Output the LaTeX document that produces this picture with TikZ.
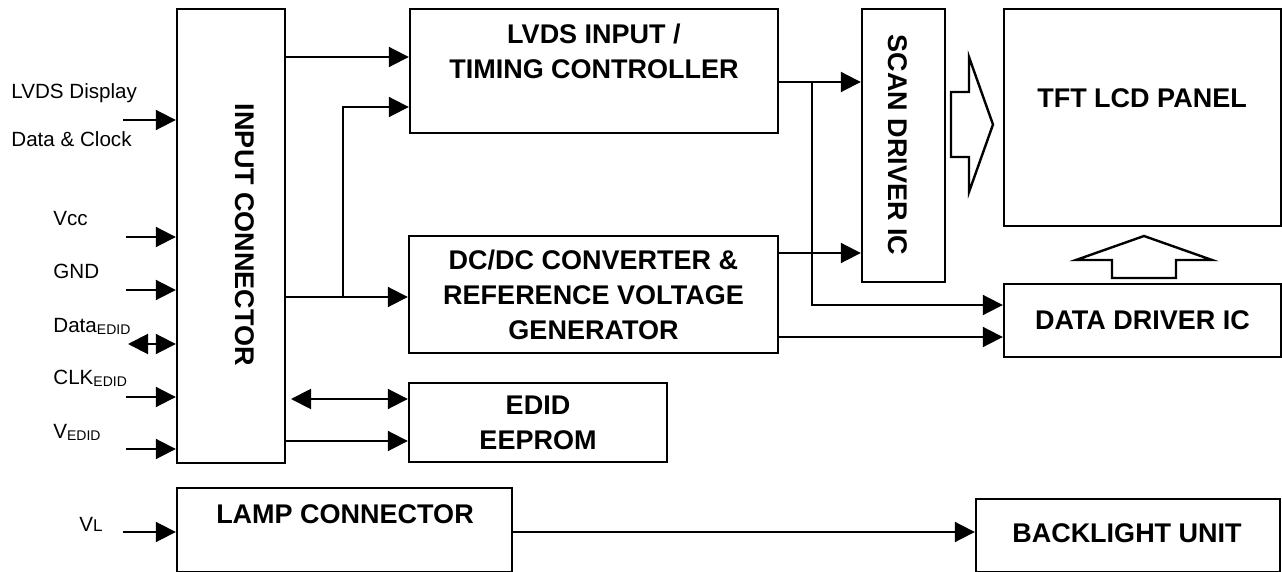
\documentclass[tikz,border=0pt]{standalone}
\usepackage{fontspec}
\setmainfont{Liberation Sans}
\usetikzlibrary{arrows.meta}
\newcommand\mybox[6]{\node[box,minimum width={(#4-#2)*0.5pt},minimum height={(#5-#3)*0.5pt}] (#1) at ({(#2+#4)/2},{(#3+#5)/2}) {#6};}
\newcommand\subtxt[1]{\raisebox{-0.6pt}{\fontsize{7}{8}\selectfont #1}}
\begin{document}
\begin{tikzpicture}[x=0.5pt,y=-0.5pt,
  box/.style={draw,line width=1.2pt,inner sep=0pt,align=center,font=\bfseries\fontsize{13.5}{17.5}\selectfont},
  lbl/.style={inner sep=0pt,anchor=base west,font=\fontsize{10.3}{12}\selectfont},
  btxt/.style={inner sep=0pt,align=center,font=\bfseries\fontsize{13.5}{17.5}\selectfont},
  arr/.style={line width=1pt,-{Triangle[length=10pt,width=10pt]}},
  darr/.style={line width=1pt,{Triangle[length=10pt,width=10pt]}-{Triangle[length=10pt,width=10pt]}},
  hollow/.style={draw,line width=1.2pt,fill=white,line join=miter}]
\useasboundingbox (0,0) rectangle (1282,572);

% boxes
\mybox{ic}{177}{9}{285}{463}{}
\node[btxt,rotate=-90] (ict) at (245,235) {INPUT CONNECTOR};
\mybox{lvds}{410}{9}{778}{133}{}
\node[btxt] (lvdst) at (594,51) {LVDS INPUT /\\TIMING CONTROLLER};
\mybox{dcdc}{409}{236}{778}{353}{DC/DC CONVERTER \&\\REFERENCE VOLTAGE\\GENERATOR}
\mybox{edid}{409}{383}{667}{462}{\fontsize{13.5}{15.5}\selectfont EDID\\EEPROM}
\mybox{scan}{862}{9}{945}{282}{}
\node[btxt,rotate=-90] (scant) at (898,145) {SCAN DRIVER IC};
\mybox{tft}{1004}{9}{1281}{226}{}
\node[btxt] (tftt) at (1142,98) {TFT LCD PANEL};
\mybox{ddrv}{1004}{284}{1281}{357}{DATA DRIVER IC}
\mybox{lamp}{177}{488}{512}{572}{}
\node[btxt] (lampt) at (345,514) {LAMP CONNECTOR};
\mybox{blu}{976}{499}{1280}{572}{}
\node[btxt] (blut) at (1127,533) {BACKLIGHT UNIT};

% left labels
\node[lbl] (l1) at (11,99) {LVDS Display};
\node[lbl] (l2) at (11,147) {Data \& Clock};
\node[lbl] (l3) at (53,226) {Vcc};
\node[lbl] (l4) at (53,279) {GND};
\node[lbl] (l5) at (53,333) {Data\subtxt{EDID}};
\node[lbl] (l6) at (53,385) {CLK\subtxt{EDID}};
\node[lbl] (l7) at (53,439) {V\subtxt{EDID}};
\node[lbl] (l8) at (79,532) {V{\fontsize{8.5}{10}\selectfont L}};

% input arrows
\coordinate (a1) at (123,120);
\coordinate (a2) at (126,237);
\coordinate (a3) at (126,290);
\coordinate (a4) at (128,344);
\coordinate (a5) at (126,397);
\coordinate (a6) at (126,449);
\coordinate (a7) at (123,532);
\draw[arr] (a1) -- (ic.west |- a1);
\draw[arr] (a2) -- (ic.west |- a2);
\draw[arr] (a3) -- (ic.west |- a3);
\draw[darr] (a4) -- (ic.west |- a4);
\draw[arr] (a5) -- (ic.west |- a5);
\draw[arr] (a6) -- (ic.west |- a6);
\draw[arr] (a7) -- (lamp.west |- a7);

% internal connectors
\coordinate (y57) at (0,57);
\coordinate (y107) at (0,107);
\coordinate (j1) at (343,297);
\coordinate (e1) at (291,399);
\coordinate (y441) at (0,441);
\coordinate (j2) at (812,82);
\coordinate (y305) at (0,305);
\coordinate (y253) at (0,253);
\coordinate (y337) at (0,337);
\coordinate (y532) at (0,532);
\draw[arr] (ic.east |- y57) -- (lvds.west |- y57);
\draw[arr] (ic.east |- j1) -- (dcdc.west |- j1);
\draw[arr] (j1) |- (lvds.west |- y107);
\draw[darr] (e1) -- (edid.west |- e1);
\draw[arr] (ic.east |- y441) -- (edid.west |- y441);
\draw[arr] (lvds.east |- j2) -- (scan.west |- j2);
\draw[arr] (j2) |- (ddrv.west |- y305);
\draw[arr] (dcdc.east |- y253) -- (scan.west |- y253);
\draw[arr] (dcdc.east |- y337) -- (ddrv.west |- y337);
\draw[arr] (lamp.east |- y532) -- (blu.west |- y532);

% hollow arrows
\draw[hollow] (951,92) -- (969,92) -- (969,57) -- (993,124.5) -- (969,192) -- (969,157) -- (951,157) -- cycle;
\draw[hollow] (1112,278) -- (1112,260) -- (1076,260) -- (1144,236) -- (1212,260) -- (1176,260) -- (1176,278) -- cycle;
\end{tikzpicture}
\end{document}
